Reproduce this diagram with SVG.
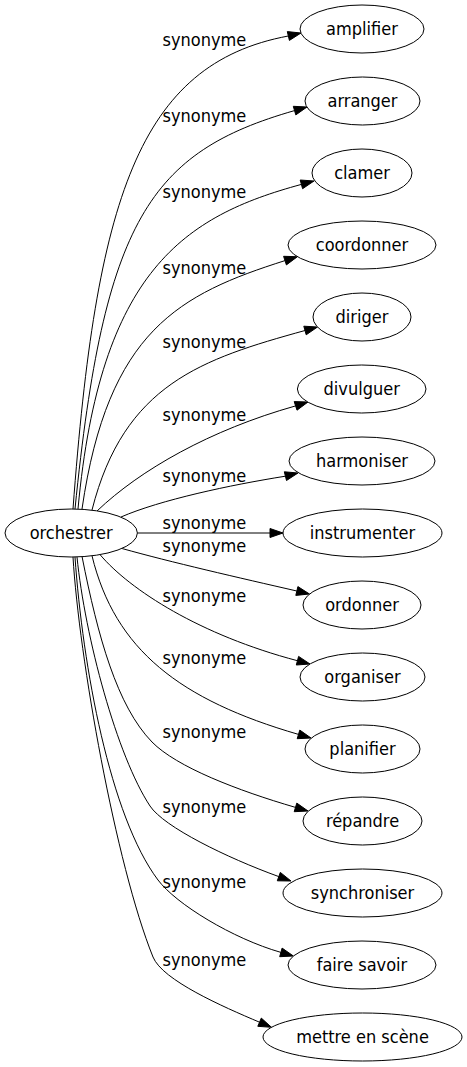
<svg xmlns="http://www.w3.org/2000/svg" width="467" height="1067" viewBox="0 0 467 1067">
<style>
.n ellipse{fill:#fff;stroke:#000;stroke-width:1}
text{font-family:"DejaVu Sans Condensed","DejaVu Sans",sans-serif;font-stretch:condensed;font-size:18px;fill:#000;text-anchor:middle}
#edges path{fill:none;stroke:#000;stroke-width:1}
#edges polygon{fill:#000;stroke:#000;stroke-width:1}
</style>
<rect width="467" height="1067" fill="#fff"/>
<g id="edges">
<path d="M73,509 C96,200 138,64 288.3,36"/><polygon points="289.4,40.4 301,33 287.3,31.6"/><text x="204.4" y="45.7">synonyme</text>
<path d="M75,509 C104,220 150,152 294.5,110.6"/><polygon points="295.8,114.9 307,107 293.3,106.3"/><text x="204.4" y="121.7">synonyme</text>
<path d="M78,509 C100,270 185,216 301.4,184.4"/><polygon points="302.6,188.7 314,181 300.2,180"/><text x="204.4" y="198.3">synonyme</text>
<path d="M82,509 C108,330 180,294 285,260.6"/><polygon points="286.4,264.9 297.4,256.7 283.6,256.3"/><text x="204.4" y="274.3">synonyme</text>
<path d="M92,510 C124,384 202,359 305,330.5"/><polygon points="306.2,334.8 317.5,327 303.8,326.2"/><text x="204.4" y="348.3">synonyme</text>
<path d="M97,511 C140,470 210,430 295.6,405.9"/><polygon points="297,410.2 308,402 294.2,401.6"/><text x="204.4" y="421">synonyme</text>
<path d="M121,517 C160,500 230,485 285.4,476.2"/><polygon points="286.5,480.5 298,473 284.3,471.8"/><text x="204.4" y="482.3">synonyme</text>
<path d="M137.4,533 L270,533"/><polygon points="270,537.5 283,533 270,528.5"/><text x="204.4" y="529">synonyme</text>
<path d="M122,548.5 C170,562 240,578 296.8,591"/><polygon points="295.8,595.4 309.5,594 297.9,586.6"/><text x="204.4" y="551.7">synonyme</text>
<path d="M100,554.6 C130,590 200,635 297.4,660.7"/><polygon points="296.3,665 310,664 298.6,656.4"/><text x="204.4" y="601.7">synonyme</text>
<path d="M92,555.8 C115,650 180,700 298.5,734.4"/><polygon points="297.2,738.7 311,738 299.8,730.1"/><text x="204.4" y="664.3">synonyme</text>
<path d="M82,556.4 C98,637 117,706 152,742 C176.5,767 237.6,790.5 295.5,807.4"/><polygon points="294.2,811.7 308,811 296.8,803.1"/><text x="204.4" y="737.7">synonyme</text>
<path d="M77,557 C85,637 117,756 150,806 C163.8,826.9 226.8,857.8 278.8,876.6"/><polygon points="277.3,880.8 291,881 280.3,872.4"/><text x="204.4" y="813.3">synonyme</text>
<path d="M75,557 C82.7,667 110,816 158,880 C176,904 232.5,938.5 280.9,952.4"/><polygon points="279.7,956.7 293.4,956 282.1,948.1"/><text x="204.4" y="888.3">synonyme</text>
<path d="M73,557 C79,657 115.6,864.2 153,957 C162.4,980.2 222.4,1006.5 259.5,1022.2"/><polygon points="257.8,1026.3 271.5,1027.3 261.3,1018.1"/><text x="204.4" y="965.7">synonyme</text>
</g>
<g id="orchestrer" class="n"><ellipse cx="71.2" cy="533" rx="66.2" ry="24"/><text x="71.2" y="539.3">orchestrer</text></g>
<g id="amplifier" class="n"><ellipse cx="362" cy="29" rx="62" ry="24"/><text x="362" y="35.3">amplifier</text></g>
<g id="arranger" class="n"><ellipse cx="362.5" cy="101" rx="57.5" ry="24"/><text x="362.5" y="107.3">arranger</text></g>
<g id="clamer" class="n"><ellipse cx="362" cy="173" rx="50" ry="24"/><text x="362" y="179.3">clamer</text></g>
<g id="coordonner" class="n"><ellipse cx="362" cy="245" rx="74" ry="24"/><text x="362" y="251.3">coordonner</text></g>
<g id="diriger" class="n"><ellipse cx="362" cy="317" rx="49" ry="24"/><text x="362" y="323.3">diriger</text></g>
<g id="divulguer" class="n"><ellipse cx="361.7" cy="389" rx="64.3" ry="24"/><text x="361.7" y="395.3">divulguer</text></g>
<g id="harmoniser" class="n"><ellipse cx="362" cy="461" rx="73" ry="24"/><text x="362" y="467.3">harmoniser</text></g>
<g id="instrumenter" class="n"><ellipse cx="362.5" cy="533" rx="79.5" ry="24"/><text x="362.5" y="539.3">instrumenter</text></g>
<g id="ordonner" class="n"><ellipse cx="362" cy="605" rx="59" ry="24"/><text x="362" y="611.3">ordonner</text></g>
<g id="organiser" class="n"><ellipse cx="362.5" cy="677" rx="62.5" ry="24"/><text x="362.5" y="683.3">organiser</text></g>
<g id="planifier" class="n"><ellipse cx="362.5" cy="749" rx="57.5" ry="24"/><text x="362.5" y="755.3">planifier</text></g>
<g id="repandre" class="n"><ellipse cx="362.5" cy="821" rx="59.5" ry="24"/><text x="362.5" y="827.3">répandre</text></g>
<g id="synchroniser" class="n"><ellipse cx="362.5" cy="893" rx="79.5" ry="24"/><text x="362.5" y="899.3">synchroniser</text></g>
<g id="faire_savoir" class="n"><ellipse cx="362" cy="965" rx="74" ry="24"/><text x="362" y="971.3">faire savoir</text></g>
<g id="mettre_en_scene" class="n"><ellipse cx="362.5" cy="1037" rx="99.5" ry="24"/><text x="362.5" y="1043.3">mettre en scène</text></g>
</svg>
